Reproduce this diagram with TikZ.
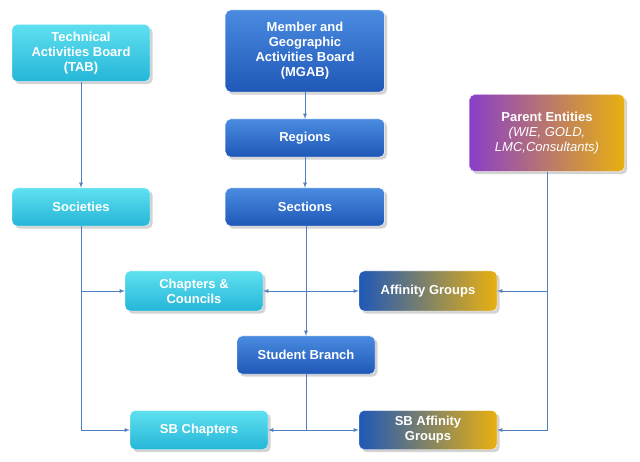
\documentclass[tikz,border=0pt]{standalone}
\usepackage{fontspec}
\setmainfont{Liberation Sans}
\usetikzlibrary{positioning}
\usetikzlibrary{shadows}
\definecolor{bluetop}{HTML}{4A8BE0}
\definecolor{bluebot}{HTML}{1F58B8}
\definecolor{cyantop}{HTML}{5FE0F0}
\definecolor{cyanbot}{HTML}{25B6D8}
\definecolor{purp}{HTML}{8A3FC8}
\definecolor{gold}{HTML}{E8B010}
\definecolor{linkblue}{HTML}{4F7FC0}
\tikzset{
 box/.style={rounded corners=5pt,draw=white,thin,text=white,align=center,
  font=\fontsize{13}{15}\selectfont\bfseries,drop shadow={opacity=0.35},
  minimum width=138pt,minimum height=38pt,inner sep=2pt},
 bluebox/.style={box,top color=bluetop,bottom color=bluebot},
 cyanbox/.style={box,top color=cyantop,bottom color=cyanbot},
 mixbox/.style={box,left color=bluebot,middle color=purp,right color=gold},
 link/.style={draw=linkblue,thick},
 arr/.style={link,-latex}
}
\begin{document}
\begin{tikzpicture}[x=1pt,y=-1pt]
\useasboundingbox (0,0) rectangle (640,462);
\node[cyanbox,minimum height=57pt] (tab) at (81,53) {Technical\\Activities Board\\(TAB)};
\node[bluebox,minimum width=159pt,minimum height=82pt] (mgab) at (305,51) {Member and\\Geographic\\Activities Board\\(MGAB)};
\node[bluebox,minimum width=159pt] (regions) at (305,138) {Regions};
\node[bluebox,minimum width=159pt] (sections) at (305,207) {Sections};
\node[cyanbox] (societies) at (81,207) {Societies};
\node[box,left color=purp,right color=gold,minimum width=155pt,minimum height=77pt] (parent) at (547,133)
 {Parent Entities\\{\normalfont\itshape (WIE, GOLD,}\\{\normalfont\itshape LMC,Consultants)}};
\node[cyanbox,minimum height=40pt] (chapters) at (194,291) {Chapters \&\\Councils};
\node[mixbox,minimum height=40pt] (affinity) at (428,291) {Affinity Groups};
\node[bluebox] (branch) at (306,355) {Student Branch};
\node[cyanbox,minimum height=39pt] (sbchap) at (199,430) {SB Chapters};
\node[mixbox,minimum height=39pt] (sbaff) at (428,430) {SB Affinity\\Groups};
% main links
\draw[arr] (tab) -- (societies);
\draw[arr] (mgab) -- (regions);
\draw[arr] (regions) -- (sections);
\draw[arr] (sections.south -| branch.north) -- (branch);
\draw[arr] (societies) |- (sbchap);
\draw[arr] (societies |- chapters) -- (chapters);
\draw[arr] (parent) |- (sbaff);
\draw[arr] (parent |- affinity) -- (affinity);
\draw[link,latex-latex] (chapters) -- (affinity);
\coordinate (low) at (sbchap.east -| branch);
\draw[link] (branch) -- (low);
\draw[arr] (low) -- (sbchap);
\draw[arr] (low) -- (sbaff);
\end{tikzpicture}
\end{document}
